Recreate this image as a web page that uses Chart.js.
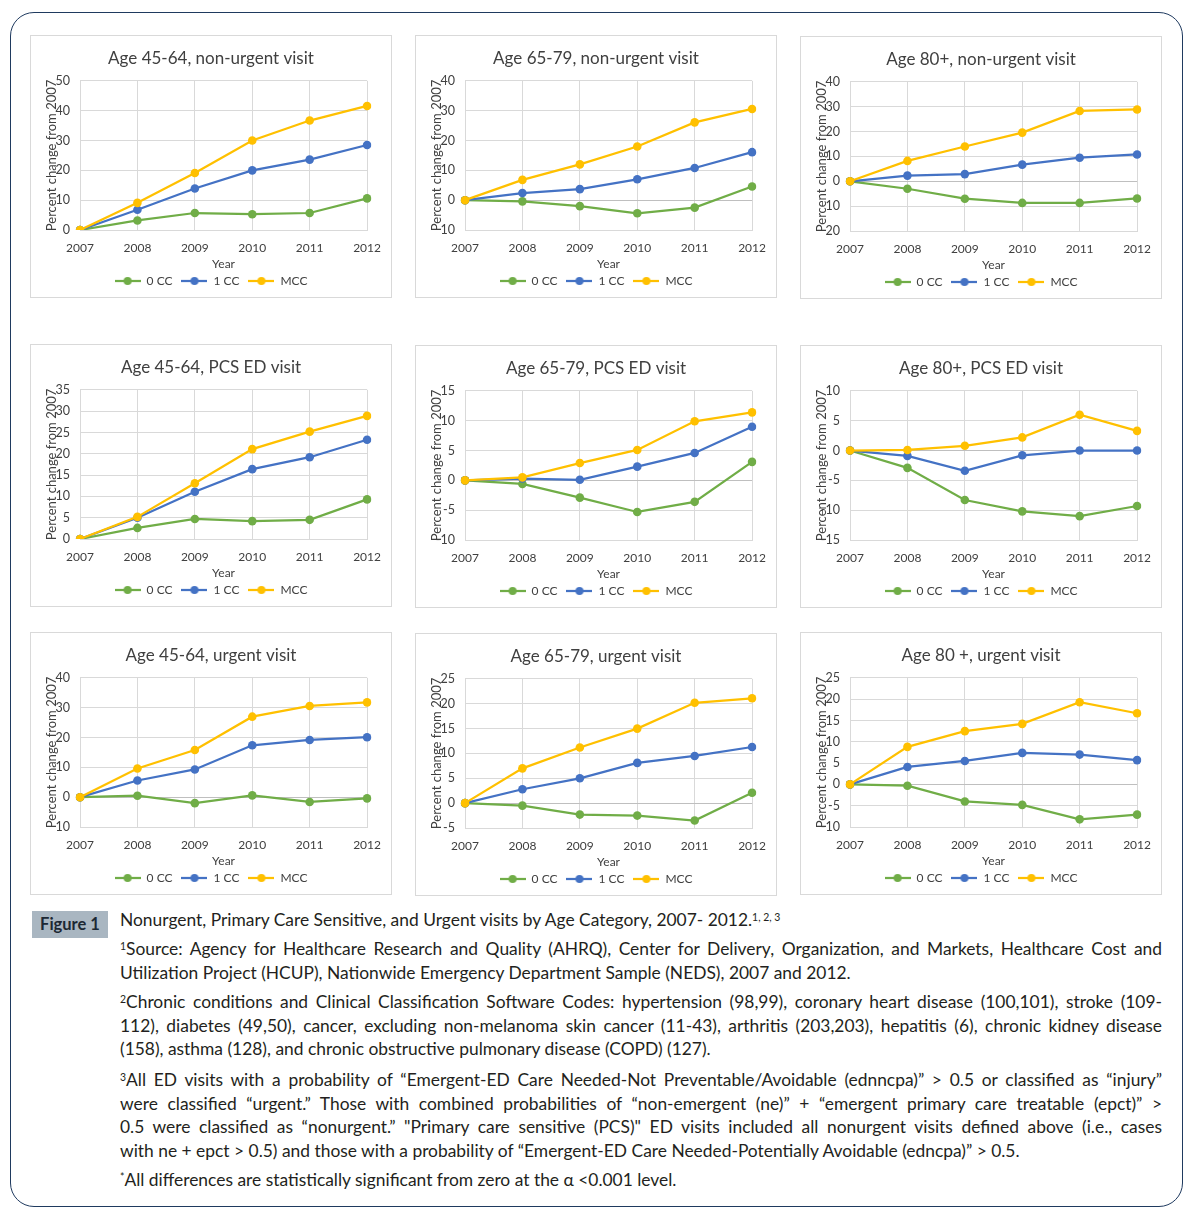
<!DOCTYPE html>
<html>
<head>
<meta charset="utf-8">
<script src="https://cdn.jsdelivr.net/npm/chart.js@4.4.1/dist/chart.umd.min.js"></script>
<style>
  body { margin: 0; background: #fff; font-family: Lato, "Open Sans", sans-serif; color: #231f20; }
  #page { position: relative; width: 1190px; height: 1219px; overflow: hidden; }
  #frame { position: absolute; left: 10px; top: 12px; width: 1173px; height: 1195px; box-sizing: border-box;
           border: 1.5px solid #1f3a5f; border-radius: 24px; }
  .panel { position: absolute; width: 362px; height: 263px; outline: 1px solid #d9d9d9; outline-offset: -1px; }
  .panel canvas { display: block; }
  #figlabel { position: absolute; left: 32px; top: 911px; width: 76px; height: 27px; background: #a9b6c1;
              font-weight: bold; font-size: 16.5px; line-height: 27px; text-align: center; color: #1c2833; }
  .cap { position: absolute; left: 120px; width: 1042px; font-size: 17.4px; line-height: 23.5px; }
  .cap div { white-space: nowrap; }
  .cap .j { text-align: justify; text-align-last: justify; }
  sup { font-size: 0.6em; vertical-align: 0.5em; line-height: 0; }
</style>
</head>
<body>
<div id="page">
  <div id="frame"></div>

  <div class="panel" style="left:30px;top:35px"><canvas id="c1" width="362" height="262"></canvas></div>
  <div class="panel" style="left:415px;top:35px"><canvas id="c2" width="362" height="262"></canvas></div>
  <div class="panel" style="left:800px;top:36px"><canvas id="c3" width="362" height="262"></canvas></div>
  <div class="panel" style="left:30px;top:344px"><canvas id="c4" width="362" height="262"></canvas></div>
  <div class="panel" style="left:415px;top:345px"><canvas id="c5" width="362" height="262"></canvas></div>
  <div class="panel" style="left:800px;top:345px"><canvas id="c6" width="362" height="262"></canvas></div>
  <div class="panel" style="left:30px;top:632px"><canvas id="c7" width="362" height="262"></canvas></div>
  <div class="panel" style="left:415px;top:633px"><canvas id="c8" width="362" height="262"></canvas></div>
  <div class="panel" style="left:800px;top:632px"><canvas id="c9" width="362" height="262"></canvas></div>

  <div id="figlabel">Figure 1</div>
  <div class="cap" style="top:908px">
    <div>Nonurgent, Primary Care Sensitive, and Urgent visits by Age Category, 2007- 2012.<sup>1, 2, 3</sup></div>
  </div>
  <div class="cap" style="top:937px">
    <div class="j"><sup>1</sup>Source: Agency for Healthcare Research and Quality (AHRQ), Center for Delivery, Organization, and Markets, Healthcare Cost and</div>
    <div>Utilization Project (HCUP), Nationwide Emergency Department Sample (NEDS), 2007 and 2012.</div>
  </div>
  <div class="cap" style="top:990px">
    <div class="j"><sup>2</sup>Chronic conditions and Clinical Classification Software Codes: hypertension (98,99), coronary heart disease (100,101), stroke (109-</div>
    <div class="j">112), diabetes (49,50), cancer, excluding non-melanoma skin cancer (11-43), arthritis (203,203), hepatitis (6), chronic kidney disease</div>
    <div>(158), asthma (128), and chronic obstructive pulmonary disease (COPD) (127).</div>
  </div>
  <div class="cap" style="top:1068px">
    <div class="j"><sup>3</sup>All ED visits with a probability of “Emergent-ED Care Needed-Not Preventable/Avoidable (ednncpa)” &gt; 0.5 or classified as “injury”</div>
    <div class="j">were classified “urgent.” Those with combined probabilities of “non-emergent (ne)” + “emergent primary care treatable (epct)” &gt;</div>
    <div class="j">0.5 were classified as “nonurgent.” "Primary care sensitive (PCS)" ED visits included all nonurgent visits defined above (i.e., cases</div>
    <div>with ne + epct &gt; 0.5) and those with a probability of “Emergent-ED Care Needed-Potentially Avoidable (edncpa)” &gt; 0.5.</div>
  </div>
  <div class="cap" style="top:1168px">
    <div><sup>*</sup>All differences are statistically significant from zero at the α &lt;0.001 level.</div>
  </div>
</div>

<script>
const years = ['2007', '2008', '2009', '2010', '2011', '2012'];
const seriesLabels = ['0 CC', '1 CC', 'MCC'];

// non-urgent visits
const nu4564_0cc = [0, 3.2, 5.7, 5.3, 5.7, 10.6];
const nu4564_1cc = [0, 6.8, 13.9, 20.0, 23.6, 28.5];
const nu4564_mcc = [0, 9.1, 19.1, 30.0, 36.7, 41.6];
const nu6579_0cc = [0, -0.4, -2.0, -4.4, -2.5, 4.6];
const nu6579_1cc = [0, 2.4, 3.7, 7.0, 10.8, 16.1];
const nu6579_mcc = [0, 6.8, 12.0, 18.0, 26.1, 30.6];
const nu80_0cc = [0, -3.0, -7.0, -8.7, -8.7, -6.9];
const nu80_1cc = [0, 2.3, 2.9, 6.7, 9.5, 10.8];
const nu80_mcc = [0, 8.2, 14.0, 19.6, 28.3, 28.9];

// PCS ED visits
const pcs4564_0cc = [0, 2.6, 4.7, 4.2, 4.5, 9.3];
const pcs4564_1cc = [0, 5.0, 11.1, 16.4, 19.2, 23.3];
const pcs4564_mcc = [0, 5.2, 13.1, 21.1, 25.2, 28.9];
const pcs6579_0cc = [0, -0.6, -2.9, -5.3, -3.6, 3.1];
const pcs6579_1cc = [0, 0.3, 0.1, 2.3, 4.6, 9.0];
const pcs6579_mcc = [0, 0.5, 2.9, 5.1, 9.9, 11.4];
const pcs80_0cc = [0, -2.9, -8.3, -10.2, -11.0, -9.3];
const pcs80_1cc = [0, -0.9, -3.4, -0.8, 0, 0];
const pcs80_mcc = [0, 0.1, 0.8, 2.2, 6.0, 3.3];

// urgent visits
const u4564_0cc = [0, 0.5, -2.0, 0.6, -1.6, -0.4];
const u4564_1cc = [0, 5.6, 9.3, 17.4, 19.2, 20.1];
const u4564_mcc = [0, 9.6, 15.8, 27.0, 30.6, 31.8];
const u6579_0cc = [0, -0.5, -2.3, -2.5, -3.5, 2.1];
const u6579_1cc = [0, 2.8, 5.0, 8.1, 9.5, 11.3];
const u6579_mcc = [0, 7.0, 11.2, 15.0, 20.2, 21.1];
const u80_0cc = [0, -0.3, -4.0, -4.8, -8.2, -7.1];
const u80_1cc = [0, 4.1, 5.5, 7.4, 7.0, 5.7];
const u80_mcc = [0, 8.8, 12.5, 14.2, 19.3, 16.7];

// y axis [min, max, step]
const yNu4564 = [0, 50, 10];
const yNu6579 = [-10, 40, 10];
const yNu80 = [-20, 40, 10];
const yPcs4564 = [0, 35, 5];
const yPcs6579 = [-10, 15, 5];
const yPcs80 = [-15, 10, 5];
const yU4564 = [-10, 40, 10];
const yU6579 = [-5, 25, 5];
const yU80 = [-10, 25, 5];

const colors = ['#70ad47', '#4472c4', '#ffc000'];
const textColor = '#404040';
const gridColor = '#d9d9d9';

Chart.defaults.font.family = 'Lato, "Open Sans", sans-serif';
Chart.defaults.color = textColor;

// legend key: short line with a dot in the middle, like the Excel legend
function makeMarker(color) {
    const c = document.createElement('canvas');
    c.width = 26;
    c.height = 10;
    const g = c.getContext('2d');
    g.strokeStyle = color;
    g.lineWidth = 2.25;
    g.beginPath();
    g.moveTo(0, 5);
    g.lineTo(26, 5);
    g.stroke();
    g.fillStyle = color;
    g.beginPath();
    g.arc(13, 5, 4, 0, Math.PI * 2);
    g.fill();
    return c;
}

const markers = colors.map(makeMarker);

const panels = [
    {id: 'c1', title: 'Age 45-64, non-urgent visit', series: [nu4564_0cc, nu4564_1cc, nu4564_mcc], y: yNu4564, dropMinus: true},
    {id: 'c2', title: 'Age 65-79, non-urgent visit', series: [nu6579_0cc, nu6579_1cc, nu6579_mcc], y: yNu6579, dropMinus: true},
    {id: 'c3', title: 'Age 80+, non-urgent visit', series: [nu80_0cc, nu80_1cc, nu80_mcc], y: yNu80, dropMinus: true},
    {id: 'c4', title: 'Age 45-64, PCS ED visit', series: [pcs4564_0cc, pcs4564_1cc, pcs4564_mcc], y: yPcs4564},
    {id: 'c5', title: 'Age 65-79, PCS ED visit', series: [pcs6579_0cc, pcs6579_1cc, pcs6579_mcc], y: yPcs6579},
    {id: 'c6', title: 'Age 80+, PCS ED visit', series: [pcs80_0cc, pcs80_1cc, pcs80_mcc], y: yPcs80},
    {id: 'c7', title: 'Age 45-64, urgent visit', series: [u4564_0cc, u4564_1cc, u4564_mcc], y: yU4564, dropMinus: true},
    {id: 'c8', title: 'Age 65-79, urgent visit', series: [u6579_0cc, u6579_1cc, u6579_mcc], y: yU6579},
    {id: 'c9', title: 'Age 80 +, urgent visit', series: [u80_0cc, u80_1cc, u80_mcc], y: yU80}
];

panels.forEach(p => {
    new Chart(document.getElementById(p.id), {
        type: 'line',
        data: {
            labels: years,
            datasets: p.series.map((values, i) => ({
                label: seriesLabels[i],
                data: values,
                yAxisID: 'y',
                borderColor: colors[i],
                backgroundColor: colors[i],
                borderWidth: 2.25,
                pointRadius: 4.3,
                pointBorderWidth: 0,
                order: 2 - i
            }))
        },
        options: {
            responsive: false,
            animation: false,
            layout: {padding: {left: 11, right: 11, top: 0, bottom: 0}},
            plugins: {
                title: {
                    display: true,
                    text: p.title,
                    color: textColor,
                    font: {size: 17, weight: 'normal'},
                    padding: {top: 13.5, bottom: 12}
                },
                legend: {
                    position: 'bottom',
                    labels: {
                        usePointStyle: true,
                        pointStyleWidth: 26,
                        padding: 9,
                        color: textColor,
                        font: {size: 12},
                        generateLabels: chart => chart.data.datasets.map((ds, i) => ({
                            text: ds.label,
                            pointStyle: markers[i],
                            fillStyle: ds.borderColor,
                            strokeStyle: ds.borderColor,
                            lineWidth: 0,
                            fontColor: textColor,
                            datasetIndex: i
                        }))
                    }
                },
                tooltip: {enabled: false}
            },
            scales: {
                x: {
                    grid: {color: gridColor, drawTicks: false},
                    border: {color: gridColor},
                    ticks: {padding: 11, font: {size: 12}, maxRotation: 0, autoSkip: false},
                    title: {display: true, text: 'Year', font: {size: 12}, padding: {top: 0, bottom: -5}},
                    afterFit: scale => { scale.height = 36; }
                },
                y: {
                    min: p.y[0],
                    max: p.y[1],
                    grid: {
                        color: ctx => (ctx.tick && ctx.tick.value === 0 && p.y[0] < 0) ? '#bfbfbf' : gridColor,
                        drawTicks: false
                    },
                    border: {color: gridColor},
                    ticks: {
                        stepSize: p.y[2],
                        padding: 10,
                        font: {size: 12.5},
                        callback: v => p.dropMinus ? String(Math.abs(v)) : String(v)
                    },
                    title: {display: true, text: 'Percent change from 2007', font: {size: 13}, padding: {top: 3, bottom: 0}},
                    afterFit: scale => { scale.width = 39; }
                },
                // empty right-hand spacer so the title and legend stay centred on the panel
                spacer: {
                    position: 'right',
                    grid: {display: false, drawTicks: false},
                    border: {display: false},
                    ticks: {display: false},
                    afterFit: scale => { scale.width = 11; }
                }
            }
        }
    });
});
</script>
</body>
</html>
